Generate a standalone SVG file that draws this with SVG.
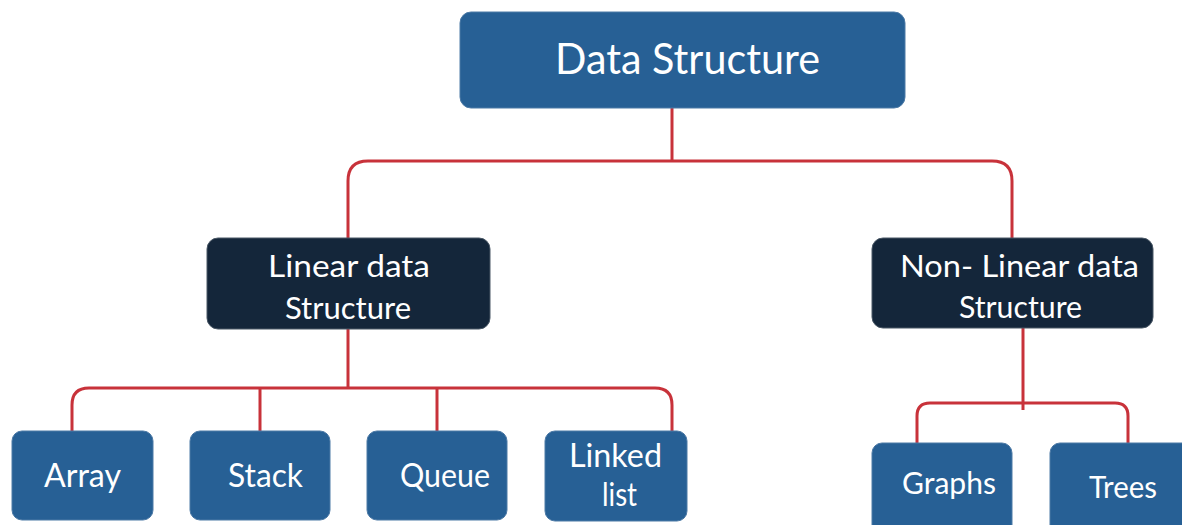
<svg xmlns="http://www.w3.org/2000/svg" width="1182" height="525" viewBox="0 0 1182 525">
<style>
.blue{fill:#276095;stroke:#4d7aa6;stroke-width:1}
.dark{fill:#14263a;stroke:#4a5866;stroke-width:1}
.t{font-family:Lato,"Liberation Sans",sans-serif;fill:#ffffff;text-anchor:start}
.conn path{fill:none;stroke:#c8323a;stroke-width:3}
</style>
<rect width="1182" height="525" fill="#ffffff"/>
<g class="conn" id="connectors">
<path d="M672,108 V161"/>
<path d="M348,238 V181 Q348,161 368,161 H992 Q1012,161 1012,181 V238"/>
<path d="M348,329 V388"/>
<path d="M72,432 V405 Q72,388 89,388 H655 Q672,388 672,405 V432"/>
<path d="M260,388 V432"/>
<path d="M437,388 V432"/>
<path d="M1023,328 V410"/>
<path d="M917,443 V416 Q917,403 930,403 H1115 Q1128,403 1128,416 V443"/>
</g>
<g id="data-structure">
<rect class="blue" x="460" y="12" width="445" height="96" rx="11"/>
<text class="t" x="555" y="74" font-size="42" textLength="265" lengthAdjust="spacingAndGlyphs">Data Structure</text>
</g>
<g id="linear">
<rect class="dark" x="207" y="238" width="283" height="91" rx="11"/>
<text class="t" x="268" y="277" font-size="30" textLength="162" lengthAdjust="spacingAndGlyphs">Linear data</text>
<text class="t" x="285" y="319" font-size="30" textLength="126" lengthAdjust="spacingAndGlyphs">Structure</text>
</g>
<g id="nonlinear">
<rect class="dark" x="872" y="238" width="281" height="90" rx="11"/>
<text class="t" x="900" y="277" font-size="30" textLength="239" lengthAdjust="spacingAndGlyphs">Non- Linear data</text>
<text class="t" x="959" y="318" font-size="30" textLength="123" lengthAdjust="spacingAndGlyphs">Structure</text>
</g>
<g id="array">
<rect class="blue" x="12" y="431" width="141" height="89" rx="10"/>
<text class="t" x="44" y="487" font-size="32" textLength="77" lengthAdjust="spacingAndGlyphs">Array</text>
</g>
<g id="stack">
<rect class="blue" x="190" y="431" width="140" height="89" rx="10"/>
<text class="t" x="228" y="487" font-size="32" textLength="75" lengthAdjust="spacingAndGlyphs">Stack</text>
</g>
<g id="queue">
<rect class="blue" x="367" y="431" width="140" height="89" rx="10"/>
<text class="t" x="400" y="487" font-size="32" textLength="90" lengthAdjust="spacingAndGlyphs">Queue</text>
</g>
<g id="linked-list">
<rect class="blue" x="545" y="431" width="142" height="90" rx="10"/>
<text class="t" x="569" y="467" font-size="32" textLength="93" lengthAdjust="spacingAndGlyphs">Linked</text>
<text class="t" x="602" y="506" font-size="32" textLength="35" lengthAdjust="spacingAndGlyphs">list</text>
</g>
<g id="graphs">
<rect class="blue" x="872" y="443" width="140" height="92" rx="10"/>
<text class="t" x="902" y="494" font-size="31" textLength="94" lengthAdjust="spacingAndGlyphs">Graphs</text>
</g>
<g id="trees">
<rect class="blue" x="1050" y="443" width="145" height="92" rx="10"/>
<text class="t" x="1089" y="498" font-size="31" textLength="68" lengthAdjust="spacingAndGlyphs">Trees</text>
</g>
</svg>
